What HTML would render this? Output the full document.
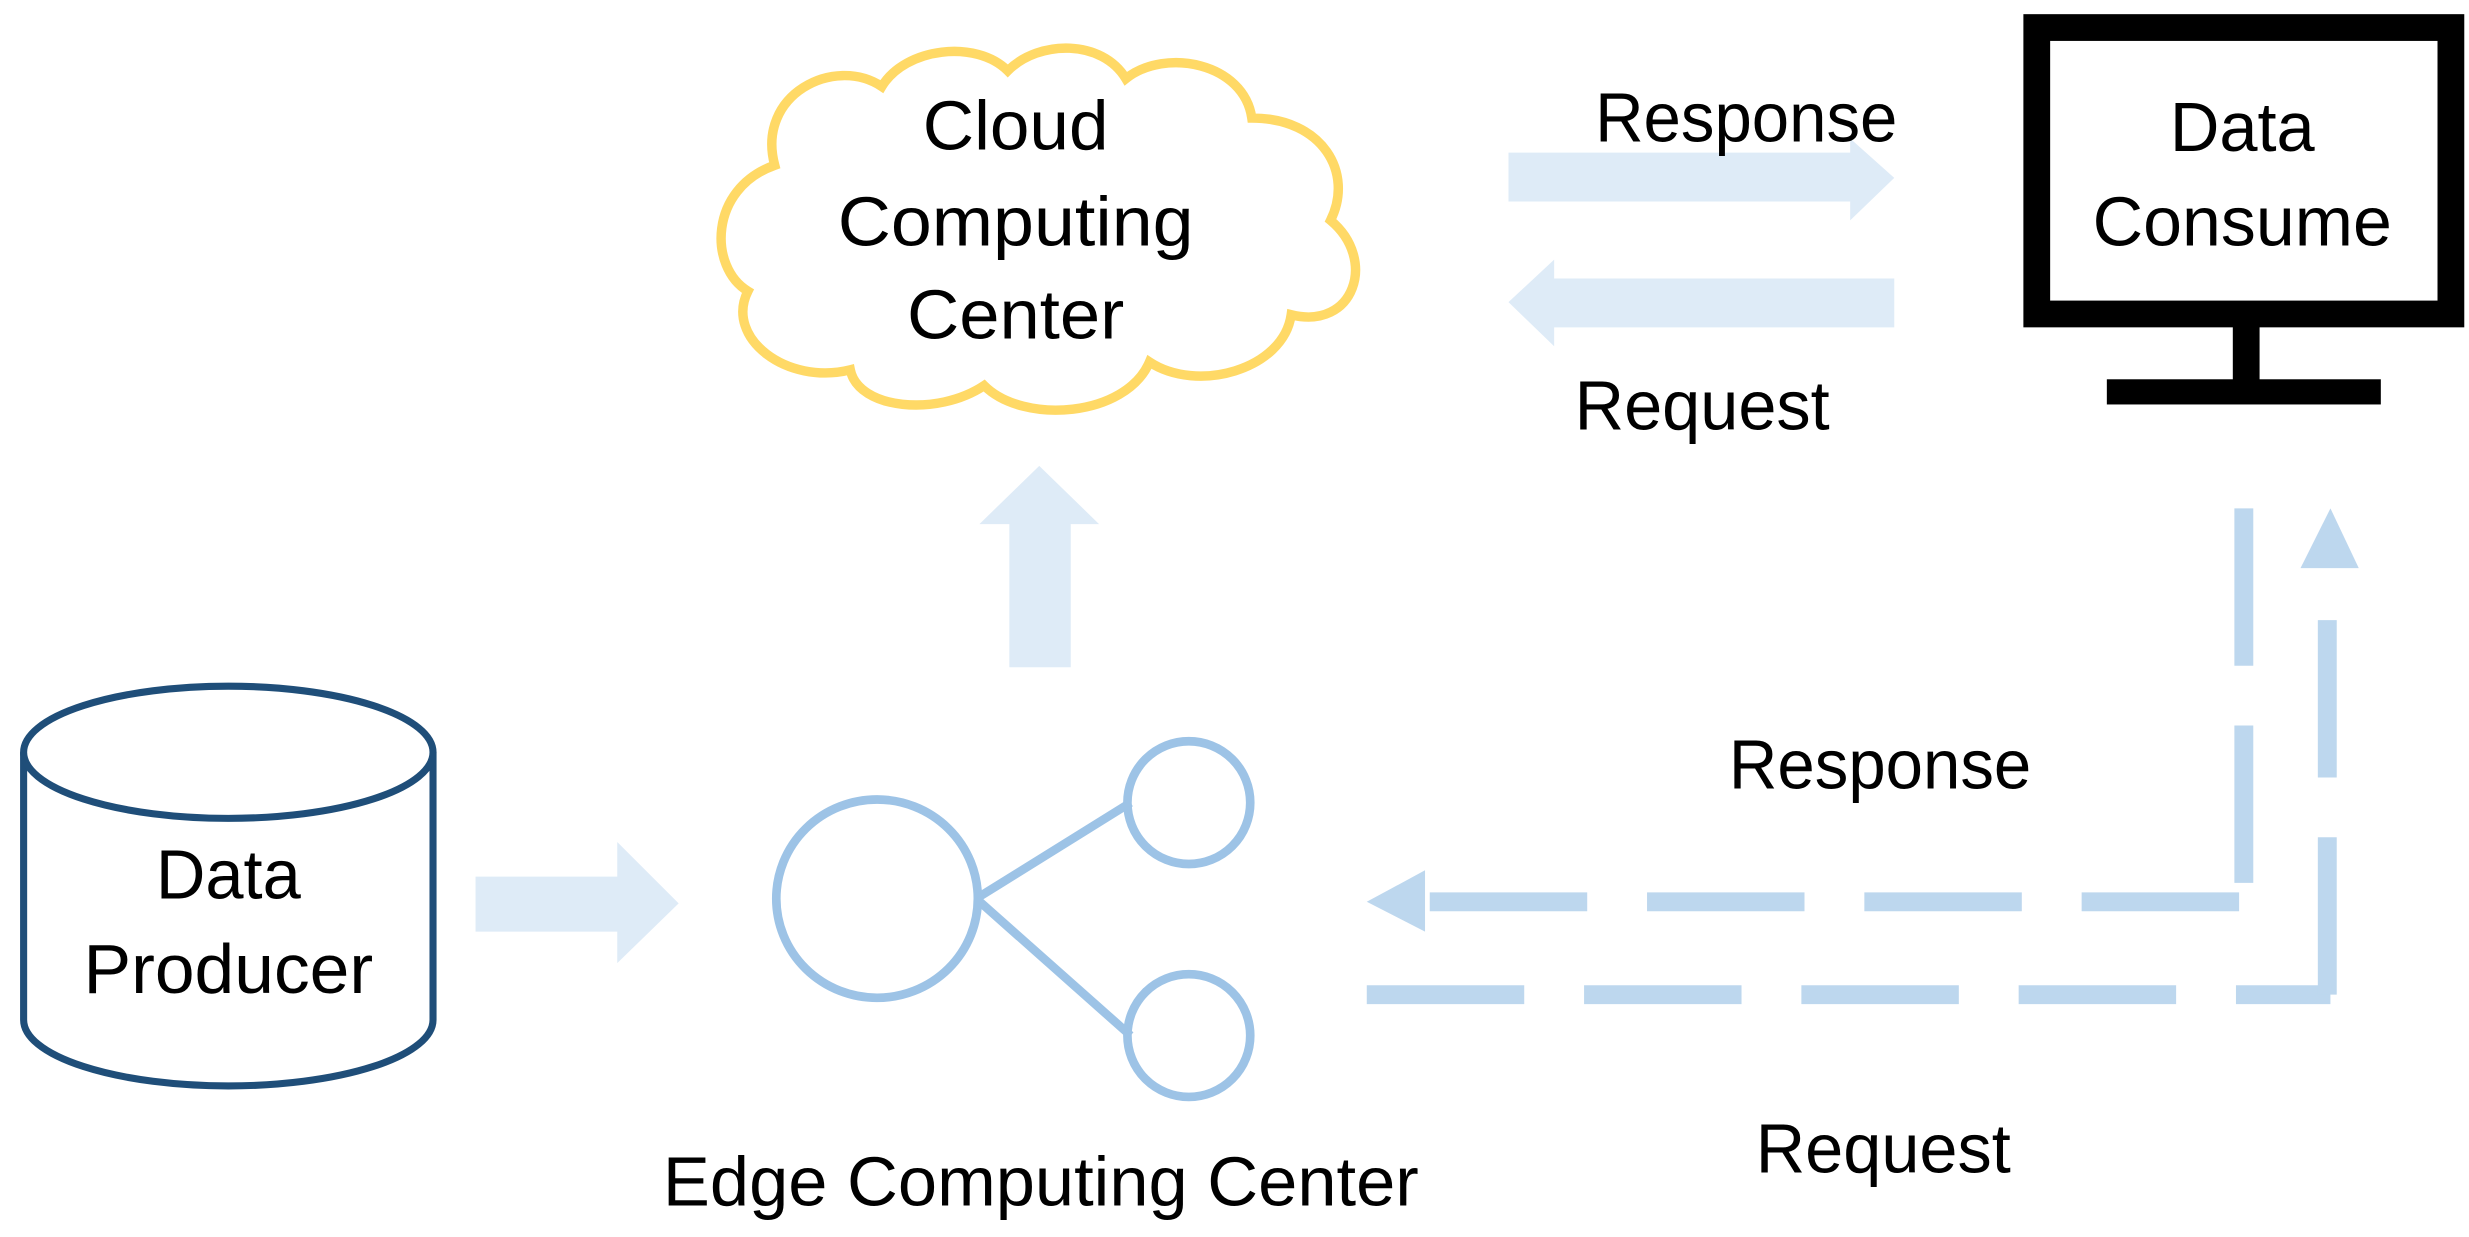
<!DOCTYPE html>
<html><head><style>html,body{margin:0;padding:0;background:#fff;}svg{display:block}</style></head>
<body>
<svg width="2469" height="1237" viewBox="0 0 1568 786" preserveAspectRatio="none" xmlns="http://www.w3.org/2000/svg">
<g font-family="Liberation Sans Narrow, Liberation Sans, sans-serif" font-size="44" fill="#000">
<!-- cloud -->
<g fill="none" stroke="#FFD966" stroke-width="6">
<path d="M492,105 C480,60 530,35 560,55 C575,30 620,25 640,45 C660,25 700,25 715,50 C740,30 790,40 795,75 C840,75 860,110 845,140 C875,165 860,210 820,200 C815,235 760,250 730,230 C715,265 650,270 625,245 C595,265 545,260 540,235 C500,245 460,215 475,185 C450,170 450,120 492,105 Z"/>
</g>
<text x="645" y="95" text-anchor="middle" textLength="118" lengthAdjust="spacingAndGlyphs">Cloud</text>
<text x="645" y="156" text-anchor="middle" textLength="226" lengthAdjust="spacingAndGlyphs">Computing</text>
<text x="645" y="215" text-anchor="middle" textLength="138" lengthAdjust="spacingAndGlyphs">Center</text>
<!-- top arrows -->
<polygon points="958,97 1175,97 1175,88 1203,113 1175,140 1175,128 958,128" fill="#DEEBF7"/>
<polygon points="1203,177 987,177 987,165 958,192 987,220 987,208 1203,208" fill="#DEEBF7"/>
<text x="1013" y="90" textLength="192" lengthAdjust="spacingAndGlyphs">Response</text>
<text x="1000" y="273" textLength="162" lengthAdjust="spacingAndGlyphs">Request</text>
<!-- monitor -->
<rect x="1293.5" y="17.5" width="263" height="182" fill="#fff" stroke="#000" stroke-width="17"/>
<rect x="1418" y="206" width="17" height="38" fill="#000"/>
<rect x="1338" y="241" width="174" height="16" fill="#000"/>
<text x="1424" y="96" text-anchor="middle" textLength="92" lengthAdjust="spacingAndGlyphs">Data</text>
<text x="1424" y="156" text-anchor="middle" textLength="190" lengthAdjust="spacingAndGlyphs">Consume</text>
<!-- up arrow -->
<polygon points="641,424 641,333 622,333 660,296 698,333 680,333 680,424" fill="#DEEBF7"/>
<!-- cylinder -->
<g fill="#fff" stroke="#1F4E79" stroke-width="4.5">
<path d="M15,478 L15,648 A130,42 0 0 0 275,648 L275,478"/>
<ellipse cx="145" cy="478" rx="130" ry="42"/>
</g>
<text x="145" y="571" text-anchor="middle" textLength="92" lengthAdjust="spacingAndGlyphs">Data</text>
<text x="145" y="631" text-anchor="middle" textLength="184" lengthAdjust="spacingAndGlyphs">Producer</text>
<!-- right arrow -->
<polygon points="302,557 392,557 392,535 431,574 392,612 392,592 302,592" fill="#DEEBF7"/>
<!-- edge icon -->
<g fill="none" stroke="#9DC3E6" stroke-width="5.5">
<ellipse cx="557" cy="571" rx="64" ry="63"/>
<ellipse cx="755" cy="510" rx="39" ry="39"/>
<ellipse cx="755" cy="658" rx="39" ry="39"/>
<line x1="620" y1="571" x2="718" y2="510"/>
<line x1="620" y1="571" x2="718" y2="658"/>
</g>
<text x="661" y="766" text-anchor="middle" textLength="480" lengthAdjust="spacingAndGlyphs">Edge Computing Center</text>
<!-- dashed lines -->
<g fill="none" stroke="#BDD7EE" stroke-width="12">
<path d="M1425,323 L1425,562" stroke-dasharray="100,38"/>
<path d="M908,573 L1423,573" stroke-dasharray="100,38"/>
<path d="M868,632 L1480,632" stroke-dasharray="100,38"/>
<path d="M1478,394 L1478,632" stroke-dasharray="100,38"/>
</g>
<polygon points="868,573 905,553 905,592" fill="#BDD7EE"/>
<polygon points="1480,323 1461,361 1498,361" fill="#BDD7EE"/>
<text x="1098" y="501" textLength="192" lengthAdjust="spacingAndGlyphs">Response</text>
<text x="1115" y="745" textLength="162" lengthAdjust="spacingAndGlyphs">Request</text>
</g>
</svg>
</body></html>
